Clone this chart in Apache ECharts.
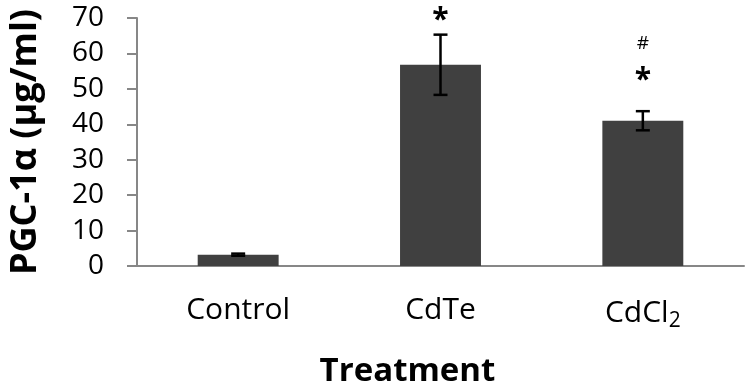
<!DOCTYPE html>
<html>
<head>
<meta charset="utf-8">
<script src="https://cdn.jsdelivr.net/npm/echarts@6/dist/echarts.min.js"></script>
<style>
  html, body { margin: 0; padding: 0; background: #fff; }
  #chart { width: 750px; height: 389px; }
</style>
</head>
<body>
<div id="chart"></div>
<script>
  // values
  const categories = ['Control', 'CdTe', 'CdCl2']
  const means = [3.2, 56.8, 41.0]
  const errors = [0.3, 8.5, 2.7]
  // significance marks and the y value where each one sits
  const starY = [null, 71.3, 54.3]
  const hashY = [null, null, 62.8]
  const yTicks = [0, 10, 20, 30, 40, 50, 60, 70]

  const axisGray = '#878787'
  const font = '"Open Sans", "DejaVu Sans", sans-serif'

  const chart = echarts.init(document.getElementById('chart'))

  const errData = categories.map((c, i) => [i, means[i], errors[i]])
  const markData = []
  categories.forEach((c, i) => {
    if (starY[i] != null) markData.push([i, starY[i], '*'])
    if (hashY[i] != null) markData.push([i, hashY[i], '#'])
  })

  chart.setOption({
    animation: false,
    grid: { left: 137, right: 6, top: 18, bottom: 123, outerBoundsMode: 'none' },
    xAxis: {
      type: 'category',
      data: categories,
      boundaryGap: true,
      name: 'Treatment',
      nameLocation: 'middle',
      nameGap: 89,
      nameTextStyle: {
        fontFamily: font, fontSize: 33, fontWeight: 'bold', color: '#000',
        padding: [0, 66, 0, 0]
      },
      axisLine: { lineStyle: { color: axisGray, width: 2 } },
      axisTick: { length: 10, lineStyle: { color: axisGray, width: 2 } },
      axisLabel: {
        interval: 0,
        margin: 29,
        fontFamily: font,
        fontSize: 30,
        color: '#000',
        formatter: function (v) {
          if (v === 'CdCl2') return '{n|CdCl}{s|2}'
          return '{n|' + v + '}'
        },
        rich: {
          n: { fontFamily: font, fontSize: 30, color: '#000' },
          s: { fontFamily: font, fontSize: 21, color: '#000', padding: [16, 0, 0, 0] }
        }
      }
    },
    yAxis: {
      type: 'value',
      min: 0,
      max: 70,
      interval: 10,
      name: 'PGC-1α (μg/ml)',
      nameLocation: 'middle',
      nameGap: 93,
      nameTextStyle: { fontFamily: font, fontSize: 36, fontWeight: 'bold', color: '#000' },
      axisLine: { show: true, lineStyle: { color: axisGray, width: 2 } },
      axisTick: { show: true, length: 10, lineStyle: { color: axisGray, width: 2 } },
      splitLine: { show: false },
      axisLabel: {
        margin: 33,
        fontFamily: font,
        fontSize: 28,
        color: '#000',
        formatter: v => yTicks.includes(v) ? String(v) : ''
      }
    },
    series: [
      {
        type: 'bar',
        data: means,
        barWidth: '40%',
        itemStyle: { color: '#404040' }
      },
      {
        type: 'custom',
        data: errData,
        z: 5,
        renderItem(params, api) {
          const x = api.value(0)
          const m = api.value(1)
          const e = api.value(2)
          const top = api.coord([x, m + e])
          const bot = api.coord([x, m - e])
          const hw = 7
          const style = { stroke: '#000', lineWidth: 2.5 }
          return {
            type: 'group',
            children: [
              { type: 'line', shape: { x1: top[0], y1: top[1], x2: bot[0], y2: bot[1] }, style },
              { type: 'line', shape: { x1: top[0] - hw, y1: top[1], x2: top[0] + hw, y2: top[1] }, style },
              { type: 'line', shape: { x1: bot[0] - hw, y1: bot[1], x2: bot[0] + hw, y2: bot[1] }, style }
            ]
          }
        }
      },
      {
        type: 'custom',
        data: markData,
        clip: false,
        z: 6,
        renderItem(params, api) {
          const p = api.coord([api.value(0), api.value(1)])
          const mark = markData[params.dataIndex][2]
          const isStar = mark === '*'
          return {
            type: 'text',
            x: p[0],
            y: p[1] + (isStar ? 7 : 0),
            style: {
              text: mark,
              fontFamily: font,
              fontSize: isStar ? 30 : 19,
              fontWeight: isStar ? 'bold' : 'normal',
              fill: '#000',
              align: 'center',
              verticalAlign: 'middle'
            }
          }
        }
      }
    ]
  })
</script>
</body>
</html>
